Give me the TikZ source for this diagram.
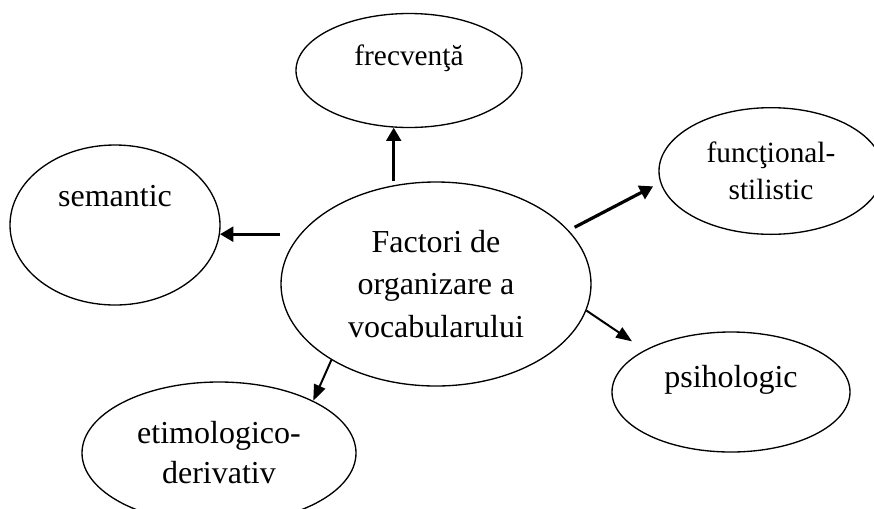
\documentclass[tikz,border=0pt]{standalone}
\usepackage{fontspec}
\setmainfont{Liberation Serif}
\usetikzlibrary{arrows.meta,shapes}

\begin{document}
\begin{tikzpicture}[
    x=0.75pt, y=-0.75pt,
    factor/.style={ellipse,draw,line width=1pt,inner sep=0pt,align=center,font=\fontsize{24}{32}\selectfont},
    arrow/.style={line width=2.4pt,-{Triangle[length=10pt,width=11pt]}},
    thinarrow/.style={line width=1.5pt,-{Triangle[length=12pt,width=9pt]}}
]
    \useasboundingbox (0,0) rectangle (874,508);

    \node[factor,minimum width=232.5pt,minimum height=153pt] (factori) at (436,284) {Factori de\\organizare a\\vocabularului};
    \node[factor,minimum width=169.5pt,minimum height=85.5pt,font=\fontsize{22}{28}\selectfont,text height=16pt,text depth=24pt] (frecventa) at (409,70.5) {frecvenţă};
    \node[factor,minimum width=157.5pt,minimum height=120pt,text height=17pt,text depth=45.5pt] (semantic) at (115,225) {semantic};
    \node[factor,minimum width=168pt,minimum height=95pt,font=\fontsize{22}{28}\selectfont] (functional) at (771,171) {funcţional-\\stilistic};
    \node[factor,minimum width=178.5pt,minimum height=90pt,text height=17pt,text depth=24.5pt] (psihologic) at (731,392) {psihologic};
    \node[factor,minimum width=205.5pt,minimum height=106.5pt,font=\fontsize{24}{30}\selectfont] (etimologic) at (219,453) {etimologico-\\derivativ};

    \draw[arrow] (frecventa.255 |- factori.north) -- (frecventa.255);
    \draw[arrow] (factori.west |- semantic.355) -- (semantic.355);
    \draw[arrow,shorten <=5pt,shorten >=6pt] (factori.22) -- (functional.186);
    \draw[thinarrow,shorten >=11.5pt] (factori.350) -- (psihologic.154);
    \draw[thinarrow] (factori.216) -- (etimologic.29);
\end{tikzpicture}
\end{document}
